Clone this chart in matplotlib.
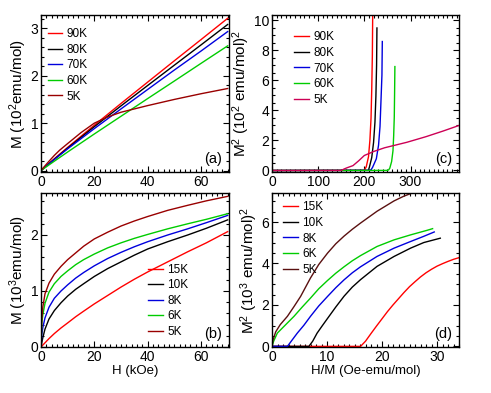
import numpy as np
import matplotlib.pyplot as plt
from matplotlib.ticker import MultipleLocator

plt.rcParams['font.family'] = ['Liberation Sans', 'DejaVu Sans']
plt.rcParams['mathtext.fontset'] = 'custom'
plt.rcParams['mathtext.rm'] = 'Liberation Sans'
plt.rcParams['mathtext.it'] = 'Liberation Sans'
plt.rcParams['font.size'] = 9

# (a) M (10^2 emu/mol) vs H (kOe), high temperatures + 5K
H_a = [0, 2, 5, 10, 20, 30, 40, 50, 60, 70]
M_90 = [0, 0.100, 0.249, 0.490, 0.957, 1.415, 1.865, 2.315, 2.761, 3.21]
M_80 = [0, 0.096, 0.239, 0.474, 0.926, 1.364, 1.794, 2.222, 2.649, 3.08]
M_70 = [0, 0.093, 0.233, 0.459, 0.885, 1.300, 1.710, 2.120, 2.520, 2.93]
M_60 = [0, 0.080, 0.198, 0.392, 0.772, 1.145, 1.518, 1.888, 2.260, 2.63]
H_a5 = [0, 1, 2, 3, 5, 7, 10, 15, 20, 25, 30, 40, 50, 60, 70]
M_a5 = [0, 0.068, 0.133, 0.197, 0.32, 0.43, 0.57, 0.80, 1.0, 1.13, 1.23, 1.37, 1.50, 1.62, 1.73]

# (b) M (10^3 emu/mol) vs H (kOe), low temperatures
H_b = [0, 0.3, 0.7, 1.5, 3, 5, 7.5, 10, 13, 16, 20, 25, 30, 35, 40, 47.5, 55, 62, 70]
M_b5 = [0, 0.50, 0.72, 0.95, 1.14, 1.30, 1.44, 1.56, 1.68, 1.80, 1.93, 2.05, 2.16, 2.25,
        2.33, 2.44, 2.53, 2.61, 2.69]
M_b6 = [0, 0.42, 0.58, 0.78, 0.98, 1.13, 1.26, 1.36, 1.47, 1.56, 1.66, 1.77, 1.86, 1.94,
        2.01, 2.11, 2.20, 2.28, 2.38]
M_b8 = [0, 0.22, 0.35, 0.52, 0.71, 0.87, 1.00, 1.11, 1.23, 1.33, 1.45, 1.58, 1.69, 1.79,
        1.88, 2.00, 2.11, 2.22, 2.35]
M_b10 = [0, 0.08, 0.17, 0.32, 0.50, 0.65, 0.79, 0.91, 1.03, 1.13, 1.26, 1.40, 1.52, 1.64,
         1.75, 1.88, 2.00, 2.12, 2.27]
M_b15 = [0, 0.015, 0.035, 0.075, 0.15, 0.24, 0.34, 0.43, 0.54, 0.64, 0.77, 0.92, 1.07, 1.21,
         1.34, 1.52, 1.70, 1.86, 2.06]

# (d) M^2 (10^3 emu/mol)^2 vs H/M (Oe-emu/mol)
HM_d5 = [0, 0.18, 0.67, 1.5, 2.8, 4.0, 5.2, 7.0, 8.5, 10.1, 11.6, 13.1, 14.6, 16.1, 19.1,
         22.2, 24.0, 25.5, 27]
M2_d5 = [0, 0.30, 0.70, 1.05, 1.45, 1.92, 2.41, 3.30, 3.95, 4.50, 4.95, 5.32, 5.65, 5.95,
         6.52, 7.02, 7.25, 7.40, 7.52]
HM_d6 = [0, 0.3, 0.97, 2.5, 4.0, 5.5, 7.0, 8.5, 10.1, 11.6, 13.1, 14.6, 16.1, 19.1, 22.2,
         25.2, 28.2, 29.2]
M2_d6 = [0, 0.25, 0.64, 1.05, 1.45, 1.90, 2.33, 2.78, 3.18, 3.53, 3.84, 4.13, 4.38, 4.82,
         5.14, 5.38, 5.60, 5.68]
HM_d8 = [0, 2.8, 3.5, 4.6, 5.8, 7.0, 8.5, 10.1, 11.6, 13.1, 14.6, 16.1, 19.1, 22.2, 25.2,
         27.5, 29.5]
M2_d8 = [0, 0, 0.25, 0.64, 1.02, 1.45, 1.95, 2.41, 2.83, 3.21, 3.55, 3.84, 4.34, 4.74, 5.06,
         5.30, 5.52]
HM_d10 = [0, 6.7, 7.4, 8.2, 9.1, 10.1, 11.6, 13.1, 14.6, 16.1, 19.1, 22.2, 25.2, 27.6, 30.6]
M2_d10 = [0, 0, 0.25, 0.64, 0.98, 1.35, 1.90, 2.42, 2.86, 3.22, 3.86, 4.34, 4.74, 5.01, 5.22]
HM_d15 = [0, 16.1, 17.0, 18.0, 19.0, 20.0, 21.0, 22.0, 23.0, 24.0, 25.0, 26.0, 27.0, 28.0,
          29.0, 30.0, 31.0, 32.0, 33.0, 34.0]
M2_d15 = [0, 0, 0.25, 0.62, 0.98, 1.33, 1.68, 2.00, 2.30, 2.60, 2.88, 3.12, 3.35, 3.55,
          3.72, 3.87, 3.99, 4.10, 4.20, 4.28]

red, black, blue, green = '#ff0000', 'black', '#0000dd', '#00cc00'


def arrott(H, M):
    # H in kOe, M in 10^2 emu/mol -> H/M in Oe-mol/emu, M^2
    H = np.asarray(H, float)
    M = np.asarray(M, float)
    hm = np.zeros_like(H)
    hm[1:] = 10 * H[1:] / M[1:]
    return hm, M ** 2


def style(ax, xmin, ymin):
    ax.tick_params(which='both', direction='in', top=True, right=True, width=0.8)
    ax.tick_params(which='major', length=4, labelsize=10, pad=2)
    ax.tick_params(which='minor', length=2)
    ax.xaxis.set_minor_locator(MultipleLocator(xmin))
    ax.yaxis.set_minor_locator(MultipleLocator(ymin))
    for s in ax.spines.values():
        s.set_linewidth(1.0)


fig = plt.figure(figsize=(4.91, 3.93), dpi=100)
W, Hf = 491, 393
def box(l, r, t, b):
    return [l / W, (Hf - b) / Hf, (r - l) / W, (b - t) / Hf]

ax_a = fig.add_axes(box(41, 229, 15, 172))
ax_c = fig.add_axes(box(272, 459, 15, 172))
ax_b = fig.add_axes(box(41, 229, 193, 347))
ax_d = fig.add_axes(box(272, 459, 193, 347))

lw = 1.0
ylfs = 11
xlfs = 9
leg_kw = dict(frameon=False, fontsize=8.5, handlelength=1.25, handletextpad=0.35,
              labelspacing=0.3, borderpad=0, borderaxespad=0, loc='upper left')

# (a)
ax_a.plot(H_a, M_90, color=red, lw=lw, label='90K')
ax_a.plot(H_a, M_80, color=black, lw=lw, label='80K')
ax_a.plot(H_a, M_70, color=blue, lw=lw, label='70K')
ax_a.plot(H_a, M_60, color=green, lw=lw, label='60K')
ax_a.plot(H_a5, M_a5, color='#990000', lw=lw, label='5K')
ax_a.set_xlim(0, 70.5)
ax_a.set_ylim(-0.03, 3.28)
ax_a.set_xticks([0, 20, 40, 60])
ax_a.set_yticks([0, 1, 2, 3])
style(ax_a, 2, 0.2)
ax_a.set_ylabel('M (10$^2$emu/mol)', labelpad=1, fontsize=ylfs)
ax_a.legend(bbox_to_anchor=(0.035, 0.915), **leg_kw)
ax_a.text(0.965, 0.04, '(a)', transform=ax_a.transAxes, ha='right', va='bottom', fontsize=10.5)

# (c)
for H_, M_, c, lab in [(H_a, M_90, red, '90K'), (H_a, M_80, black, '80K'),
                       (H_a, M_70, blue, '70K'), (H_a, M_60, green, '60K'),
                       (H_a5, M_a5, '#cc0055', '5K')]:
    hm, m2 = arrott(H_, M_)
    ax_c.plot(hm, m2, color=c, lw=lw, label=lab)
ax_c.set_xlim(0, 405)
ax_c.set_ylim(-0.1, 10.35)
ax_c.set_xticks([0, 100, 200, 300])
ax_c.set_yticks([0, 2, 4, 6, 8, 10])
style(ax_c, 10, 0.5)
ax_c.set_ylabel('M$^2$ (10$^2$ emu/mol)$^2$', labelpad=1, fontsize=ylfs)
ax_c.legend(bbox_to_anchor=(0.12, 0.895), **leg_kw)
ax_c.text(0.965, 0.04, '(c)', transform=ax_c.transAxes, ha='right', va='bottom', fontsize=10.5)

# (b)
ax_b.plot(H_b, M_b15, color=red, lw=lw, label='15K')
ax_b.plot(H_b, M_b10, color=black, lw=lw, label='10K')
ax_b.plot(H_b, M_b8, color=blue, lw=lw, label='8K')
ax_b.plot(H_b, M_b6, color=green, lw=lw, label='6K')
ax_b.plot(H_b, M_b5, color='#990000', lw=lw, label='5K')
ax_b.set_xlim(0, 70.5)
ax_b.set_ylim(0, 2.75)
ax_b.set_xticks([0, 20, 40, 60])
ax_b.set_yticks([0, 1, 2])
style(ax_b, 2, 0.2)
ax_b.set_ylabel('M (10$^3$emu/mol)', labelpad=1, fontsize=ylfs)
ax_b.set_xlabel('H (kOe)', labelpad=1, fontsize=xlfs + 0.5)
ax_b.legend(bbox_to_anchor=(0.57, 0.54), **leg_kw)
ax_b.text(0.965, 0.04, '(b)', transform=ax_b.transAxes, ha='right', va='bottom', fontsize=10.5)

# (d)
ax_d.plot(HM_d15, M2_d15, color=red, lw=lw, label='15K')
ax_d.plot(HM_d10, M2_d10, color=black, lw=lw, label='10K')
ax_d.plot(HM_d8, M2_d8, color=blue, lw=lw, label='8K')
ax_d.plot(HM_d6, M2_d6, color=green, lw=lw, label='6K')
ax_d.plot(HM_d5, M2_d5, color='#5a1010', lw=lw, label='5K')
ax_d.set_xlim(0, 34)
ax_d.set_ylim(-0.03, 7.4)
ax_d.set_xticks([0, 10, 20, 30])
ax_d.set_yticks([0, 2, 4, 6])
style(ax_d, 1, 0.5)
ax_d.set_ylabel('M$^2$ (10$^3$ emu/mol)$^2$', labelpad=1, fontsize=ylfs)
ax_d.set_xlabel('H/M (Oe-emu/mol)', labelpad=1, fontsize=xlfs + 0.5)
ax_d.legend(bbox_to_anchor=(0.06, 0.945), **leg_kw)
ax_d.text(0.965, 0.04, '(d)', transform=ax_d.transAxes, ha='right', va='bottom', fontsize=10.5)

fig.savefig('out.png', dpi=100, facecolor='white')
